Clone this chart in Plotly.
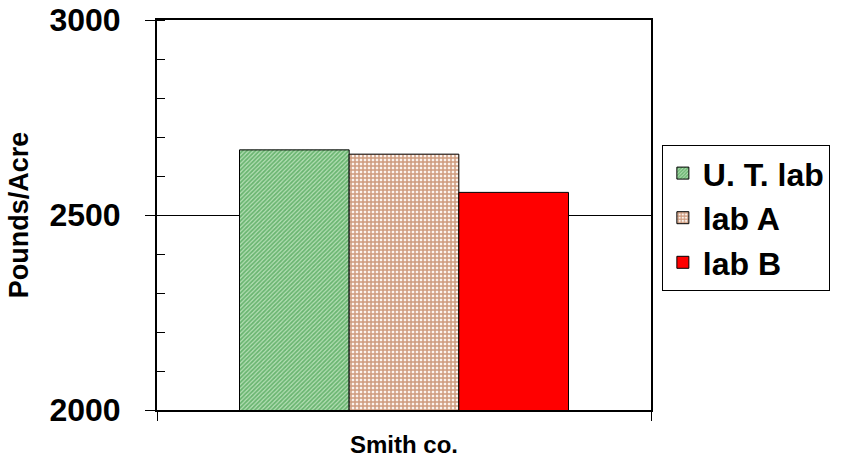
import plotly.graph_objects as go

# Yield comparison for one county, three labs
categories = ["Smith co."]
labs = ["U. T. lab", "lab A", "lab B"]
values_ut = [2667]
values_a = [2656]
values_b = [2558]
y_ticks = [2000, 2500, 3000]

FONT = "Arial, Liberation Sans, sans-serif"

fig = go.Figure()
fig.add_trace(go.Bar(
    x=categories, y=values_ut, name=labs[0],
    marker=dict(color="white",
                line=dict(color="black", width=1),
                pattern=dict(shape="/", size=3, solidity=0.6,
                             fgcolor="#1c8a2a", bgcolor="#b8e0b8")),
))
fig.add_trace(go.Bar(
    x=categories, y=values_a, name=labs[1],
    marker=dict(color="white",
                line=dict(color="black", width=1),
                pattern=dict(shape="+", size=4, solidity=0.6,
                             fgcolor="#a0400a", bgcolor="#fbf3ee")),
))
fig.add_trace(go.Bar(
    x=categories, y=values_b, name=labs[2],
    marker=dict(color="#ff0000", line=dict(color="black", width=1)),
))

fig.update_layout(
    width=843, height=463,
    margin=dict(l=157, r=192, t=20, b=53, autoexpand=False),
    paper_bgcolor="white", plot_bgcolor="white",
    barmode="group", bargap=0.334, bargroupgap=0,
    font=dict(family=FONT, color="black", weight="bold"),
    legend=dict(
        x=1.022, xanchor="left", y=0.68, yanchor="top",
        bgcolor="white", bordercolor="black", borderwidth=1,
        font=dict(family=FONT, size=32, color="black", weight="bold"),
        tracegroupgap=0, traceorder="normal",
    ),
    showlegend=True,
)

fig.update_xaxes(
    range=[-0.5, 0.5], automargin=False,
    showline=True, linecolor="black", linewidth=2, mirror=True,
    tickson="boundaries", ticks="outside", ticklen=9, tickcolor="black",
    tickfont=dict(family=FONT, size=24, color="black", weight="bold"),
    ticklabelstandoff=12,
    showgrid=False,
)
fig.update_yaxes(
    range=[2000, 3000], automargin=False,
    tickvals=y_ticks, ticktext=[str(v) for v in y_ticks],
    showline=True, linecolor="black", linewidth=2, mirror=True,
    ticks="outside", ticklen=10, tickcolor="black",
    tickfont=dict(family=FONT, size=32, color="black", weight="bold"),
    ticklabelstandoff=18,
    showgrid=True, gridcolor="black", gridwidth=1,
    minor=dict(ticks="inside", ticklen=8, dtick=100, tickcolor="black",
               showgrid=False),
    title=dict(text="Pounds/Acre", standoff=13,
               font=dict(family=FONT, size=27, color="black", weight="bold")),
)

fig.write_html("out.html")
